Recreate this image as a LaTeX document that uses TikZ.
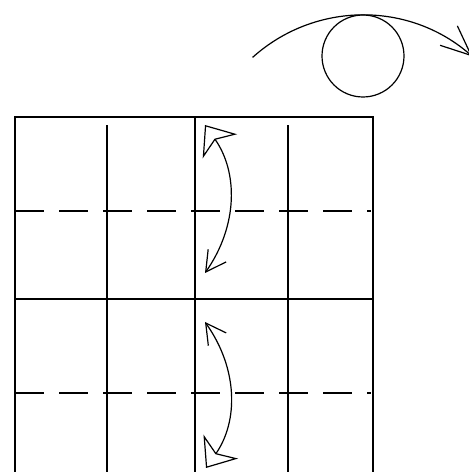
\documentclass[tikz,border=0pt]{standalone}
\usepackage{tikz}
\usetikzlibrary{arrows.meta}

\begin{document}
\begin{tikzpicture}[
  x=1pt, y=1pt,
  crease/.style={line width=1.9pt},
  valley/.style={line width=1.9pt, dash pattern=on 29pt off 15pt},
  flip/.style={line width=1.2pt},
  hollow/.tip={Stealth[open, length=26pt, width=42pt, inset=8pt]},
  barb/.tip={Straight Barb[length=20pt, width=22pt]}
]
\useasboundingbox (0,0) rectangle (469,472);
% paper grid
\draw[crease] (15,0) -- (15,355) -- (373,355) -- (373,0);
\draw[crease] (195,0) -- (195,355);
\foreach \x in {107,288}
  \draw[crease] (\x,0) -- (\x,347);
\draw[crease] (15,173) -- (373,173);
\foreach \y in {261,79}
  \draw[valley] (15,\y) -- (371,\y);
% turn over
\node[circle, draw, line width=1.2pt, minimum size=82pt, inner sep=0pt] (ball) at (363,416) {};
\coordinate (turnstart) at (252.6,414.6);
\draw[flip, -{Straight Barb[length=30pt, width=26pt]}] (turnstart) arc[start angle=132, end angle=48.5, radius=165];
% fold arrows
\coordinate (upA) at (205,347);
\coordinate (upB) at (205,199);
\coordinate (lowA) at (206,4);
\coordinate (lowB) at (205,150);
\draw[flip, {hollow}-{barb}] (upA) to[bend left=35] (upB);
\draw[flip, {hollow}-{barb}] (lowA) to[bend right=35] (lowB);
\end{tikzpicture}
\end{document}
